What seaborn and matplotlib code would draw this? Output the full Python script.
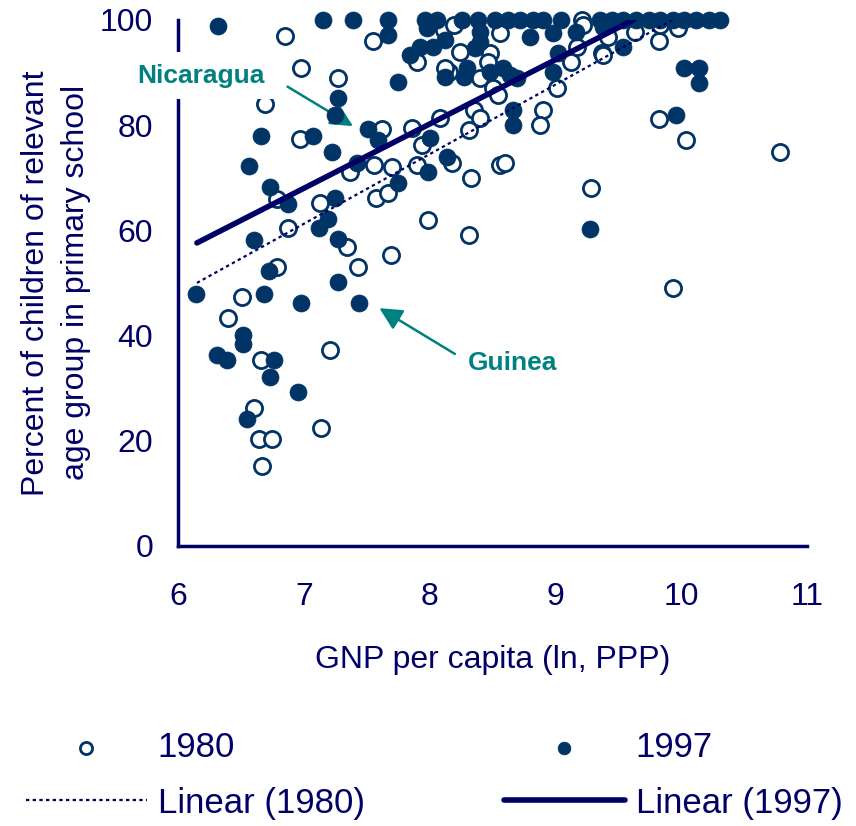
import pandas as pd
import seaborn as sns
import matplotlib.pyplot as plt

# 1980 enrolment points (ln GNP per capita PPP, percent in primary school)
x_1980 = [6.85, 6.98, 7.27, 6.69, 7.55, 6.97, 7.62, 7.56, 7.37, 6.79, 7.13, 6.87, 7.34,
          7.43, 6.79, 6.51, 6.40, 6.66, 7.21, 7.57, 7.67, 7.69, 6.60, 6.64, 6.75, 6.67,
          7.14, 7.99, 8.31, 9.28, 8.56, 8.24, 8.11, 8.19, 8.48, 8.46, 8.40, 8.15, 7.90,
          8.50, 8.54, 8.35, 8.40, 8.08, 7.86, 8.31, 7.94, 8.18, 7.90, 8.56, 8.60, 8.33,
          7.70, 8.90, 8.88, 9.01, 9.12, 9.17, 9.21, 9.22, 9.37, 9.63, 9.82, 9.97, 9.82,
          10.04, 10.78, 9.93, 9.38, 9.42, 9.83, 8.12]
y_1980 = [97.0, 90.9, 89.0, 84.0, 96.0, 77.4, 79.3, 72.4, 71.1, 66.0, 65.2, 60.5, 56.8,
          53.0, 53.0, 47.3, 43.3, 35.4, 37.3, 66.2, 67.1, 55.3, 26.2, 20.3, 20.3, 15.2,
          22.4, 62.0, 59.1, 68.1, 97.5, 93.9, 98.1, 99.0, 93.7, 92.0, 89.0, 90.1, 92.0,
          87.1, 85.7, 82.9, 81.4, 81.4, 79.5, 79.1, 76.2, 72.8, 72.4, 72.4, 72.8, 70.0,
          72.1, 82.9, 80.0, 87.1, 92.0, 94.9, 100.0, 99.0, 93.7, 97.7, 96.0, 98.5, 81.2,
          77.2, 74.9, 49.0, 93.3, 96.8, 99.0, 90.9]

# 1997 enrolment points
x_1997 = [6.14, 6.32, 6.31, 6.39, 6.52, 6.52, 6.55, 6.56, 6.60, 6.68, 6.72, 6.76, 6.73,
          6.95, 6.98, 7.27, 7.44, 7.27, 7.12, 7.19, 7.25, 6.87, 7.15, 7.39, 7.67, 7.67,
          7.27, 7.25, 6.66, 7.07, 7.22, 6.73, 7.51, 7.59, 7.42, 7.75, 7.96, 8.06, 8.26,
          8.38, 8.52, 8.62, 8.72, 8.82, 8.90, 9.04, 9.35, 9.45, 9.54, 9.64, 9.74, 9.83,
          9.93, 10.02, 10.12, 10.22, 10.31, 7.98, 8.40, 8.40, 8.80, 8.98, 9.16, 7.92,
          8.03, 7.84, 8.12, 8.36, 8.30, 8.12, 8.27, 8.48, 8.58, 8.69, 8.64, 9.02, 8.98,
          8.66, 8.66, 8.00, 8.14, 7.99, 7.75, 9.54, 10.02, 10.14, 10.14, 9.96, 9.27, 9.38]
y_1997 = [47.9, 98.9, 36.3, 35.4, 40.1, 38.4, 24.1, 72.2, 58.2, 47.9, 52.3, 35.4, 32.1,
          29.3, 46.2, 50.2, 46.2, 58.4, 60.5, 62.2, 66.2, 65.0, 100.0, 100.0, 100.0, 97.1,
          85.2, 81.9, 77.9, 77.9, 74.9, 68.3, 79.3, 77.2, 72.8, 88.2, 100.0, 100.0, 100.0,
          100.0, 100.0, 100.0, 100.0, 100.0, 100.0, 100.0, 100.0, 100.0, 100.0, 100.0, 100.0, 100.0,
          100.0, 100.0, 100.0, 100.0, 100.0, 98.5, 97.7, 95.8, 96.8, 97.5, 97.7, 94.9,
          94.9, 93.3, 96.2, 94.7, 90.9, 89.2, 89.2, 90.1, 90.9, 89.0, 89.5, 93.7, 90.1,
          82.9, 80.0, 77.6, 74.0, 71.1, 69.0, 94.9, 90.9, 90.9, 88.0, 81.9, 60.3, 98.7]

# linear trend lines as drawn (ends where they reach the top of the axis)
trend_x_1980 = [6.15, 9.93]
trend_y_1980 = [50.0, 100.0]
trend_x_1997 = [6.15, 9.62]
trend_y_1997 = [57.6, 100.0]

navy = "#000066"
dot = "#003366"
teal = "#008080"

sns.set_style("white")
plt.rcParams["font.family"] = ["Liberation Sans", "DejaVu Sans"]

fig = plt.figure(figsize=(8.56, 8.26), dpi=100)
ax = fig.add_axes([0.208, 0.339, 0.735, 0.637])

df80 = pd.DataFrame({"gnp": x_1980, "pct": y_1980})
df97 = pd.DataFrame({"gnp": x_1997, "pct": y_1997})

sns.scatterplot(data=df80, x="gnp", y="pct", ax=ax, s=135, marker="o",
                facecolor="white", edgecolor=dot, linewidth=2, clip_on=False,
                label="1980", zorder=3)
sns.scatterplot(data=df97, x="gnp", y="pct", ax=ax, s=150, marker="o",
                color=dot, edgecolor=dot, linewidth=0.5, clip_on=False,
                label="1997", zorder=4)
sns.lineplot(x=trend_x_1980, y=trend_y_1980, ax=ax, color=navy, lw=1.6,
             linestyle=(0, (1.5, 1.5)), label="Linear (1980)", zorder=5)
sns.lineplot(x=trend_x_1997, y=trend_y_1997, ax=ax, color=navy, lw=4,
             label="Linear (1997)", zorder=5)

ax.set_xlim(6, 11)
ax.set_ylim(0, 100)
ax.set_xticks(range(6, 12))
ax.set_yticks(range(0, 101, 20))
for side in ["top", "right"]:
    ax.spines[side].set_visible(False)
for side in ["left", "bottom"]:
    ax.spines[side].set_color(navy)
    ax.spines[side].set_linewidth(2.5)
ax.tick_params(axis="both", colors=navy, labelsize=23, direction="out",
               length=8, width=2, labelcolor=navy)
ax.tick_params(axis="x", pad=18)
ax.tick_params(axis="y", pad=10)

ax.set_xlabel("GNP per capita (ln, PPP)", fontsize=23, color=navy, labelpad=24)
ax.set_ylabel("Percent of children of relevant\nage group in primary school",
              fontsize=23, color=navy, labelpad=6, linespacing=1.45)

# callouts
ax.text(6.18, 89.4, "Nicaragua", fontsize=19, fontweight="bold", color=teal,
        ha="center", va="center", zorder=10, clip_on=False,
        bbox=dict(boxstyle="square,pad=0.45", facecolor="white", edgecolor="none"))
ax.annotate("", xy=(7.39, 79.8), xytext=(6.87, 87.3), annotation_clip=False,
            arrowprops=dict(arrowstyle="-|>", color=teal, lw=1.8,
                            mutation_scale=34, shrinkA=0, shrinkB=0))
ax.text(8.66, 34.8, "Guinea", fontsize=19, fontweight="bold", color=teal,
        ha="center", va="center", zorder=10)
ax.annotate("", xy=(7.6, 45.2), xytext=(8.2, 36.5),
            arrowprops=dict(arrowstyle="-|>", color=teal, lw=1.8,
                            mutation_scale=34, shrinkA=0, shrinkB=0))

handles, labels = ax.get_legend_handles_labels()
ax.legend_.remove()
order = [0, 2, 1, 3]
fig.legend([handles[i] for i in order], [labels[i] for i in order],
           loc="lower center", bbox_to_anchor=(0.507, -0.03),
           ncol=2, frameon=False, fontsize=25, labelcolor=navy,
           handlelength=3.5, columnspacing=4.0, handletextpad=0.3,
           labelspacing=0.65, markerscale=0.75)

fig.savefig("out.png", dpi=100)
